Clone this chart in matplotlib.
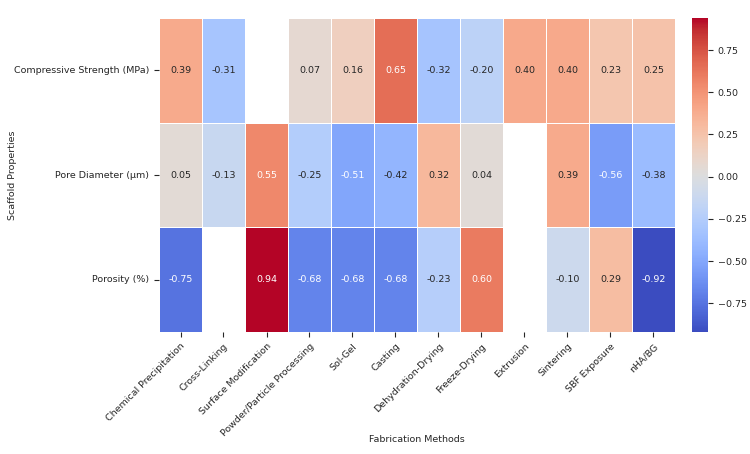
import numpy as np
import matplotlib
matplotlib.use("Agg")
import matplotlib.pyplot as plt
import seaborn as sns

methods = ["Chemical Precipitation", "Cross-Linking", "Surface Modification",
           "Powder/Particle Processing", "Sol-Gel", "Casting", "Dehydration-Drying",
           "Freeze-Drying", "Extrusion", "Sintering", "SBF Exposure", "nHA/BG"]
properties = ["Compressive Strength (MPa)", "Pore Diameter (μm)", "Porosity (%)"]

compressive = [0.39, -0.31, np.nan, 0.07, 0.16, 0.65, -0.32, -0.20, 0.40, 0.40, 0.23, 0.25]
pore = [0.05, -0.13, 0.55, -0.25, -0.51, -0.42, 0.32, 0.04, np.nan, 0.39, -0.56, -0.38]
porosity = [-0.75, np.nan, 0.94, -0.68, -0.68, -0.68, -0.23, 0.60, np.nan, -0.10, 0.29, -0.92]

data = np.array([compressive, pore, porosity])

plt.rcParams.update({"text.color": "0.15", "axes.labelcolor": "0.15",
                     "xtick.color": "0.15", "ytick.color": "0.15"})

W, H = 750, 454
fig = plt.figure(figsize=(W / 100, H / 100), dpi=100)
ax = fig.add_axes([159 / W, 1 - 332 / H, (675 - 159) / W, (332 - 18) / H])
cax = fig.add_axes([692 / W, 1 - 332 / H, 16 / W, (332 - 18) / H])

sns.heatmap(data, ax=ax, cbar_ax=cax, cmap="coolwarm", annot=True, fmt=".2f",
            linewidths=0.5, linecolor="white",
            xticklabels=methods, yticklabels=properties,
            annot_kws={"fontsize": 6.8})
ax.set_xticklabels(methods, rotation=45, ha="right", rotation_mode="anchor", fontsize=6.8)
ax.set_yticklabels(properties, rotation=0, fontsize=6.8)
ax.set_xlabel("Fabrication Methods", fontsize=6.8)
ax.set_ylabel("Scaffold Properties", fontsize=6.8)
ax.xaxis.set_label_coords(0.5, -(440 - 332) / 314, transform=ax.transAxes)
ax.yaxis.set_label_coords((12 - 159) / 516, 0.5, transform=ax.transAxes)
ax.xaxis.label.set_va("center")
ax.yaxis.label.set_va("center")
cax.tick_params(labelsize=6.8)
cax.set_yticks([-0.75, -0.5, -0.25, 0, 0.25, 0.5, 0.75])

fig.savefig("out.png", dpi=100)
